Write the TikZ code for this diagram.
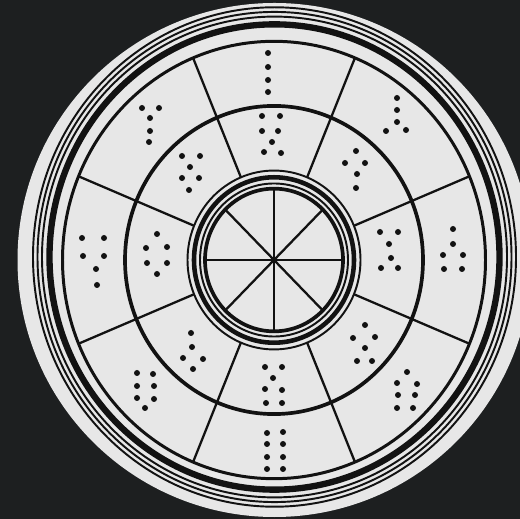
\documentclass[tikz,border=0pt]{standalone}
\usepackage{xcolor}
\definecolor{backdrop}{HTML}{1D1F20}
\definecolor{paper}{HTML}{E7E7E7}
\definecolor{ink}{HTML}{121212}

\begin{document}
\begin{tikzpicture}[x=0.02cm, y=-0.02cm,
  thinring/.style={draw=ink, line width=1.1pt},
  heavyring/.style={draw=ink, line width=3.6pt},
  cellring/.style={draw=ink, line width=1.7pt},
  divider/.style={draw=ink, line width=1.3pt},
  brl/.style={fill=ink}
]
\fill[backdrop] (0,0) rectangle (520,519);
\clip (0,0) rectangle (520,519);
\coordinate (hub) at (274,260);
\coordinate (rim) at (274.5,257);
\fill[paper] (274.5,260) circle[radius=257];

% outer rim
\begin{scope}[shift={(rim)}, yscale=1.034]
  \foreach \r in {232.5,237,241.5} \draw[thinring] (0,0) circle[radius=\r];
  \draw[heavyring] (0,0) circle[radius=225];
\end{scope}

% cell rings and hub
\begin{scope}[shift={(hub)}, yscale=1.034]
  \draw[cellring] (0,0) circle[radius=211.5];
  \draw[cellring, line width=2.1pt] (0,0) circle[radius=149];
  \foreach \a in {22.5,67.5,...,337.5}
    \draw[divider] (\a:86.5) -- (\a:211.5);
  \draw[thinring] (0,0) circle[radius=86.5];
  \draw[heavyring, line width=2.6pt] (0,0) circle[radius=80];
  \draw[thinring] (0,0) circle[radius=74];
  \draw[heavyring, line width=2.1pt] (0,0) circle[radius=69];
  \foreach \a in {0,45,...,315}
    \draw[divider] (0,0) -- (\a:69);
\end{scope}

% outer cells
\foreach \x/\y in {268/53, 268/67, 268/80, 268/92,
    397/98, 397/110, 397/122, 386/131, 406/130,
    453/229, 453/244, 443/255, 463/255, 444/269, 462/269,
    407/372, 397/383, 417/384, 398/395, 415/395, 397/408, 413/408,
    267/433, 283/432, 267/444, 283/444, 267/457, 283/457, 267/469, 283/469,
    137/373, 153/374, 137/386, 154/386, 137/398, 154/399, 145/408,
    82/238, 104/238, 83/256, 104/256, 96/269, 97/285,
    142/108, 159/108, 150/118, 150/131, 149/142}
  \fill[brl] (\x,\y) circle[radius=3];

% inner cells
\foreach \x/\y in {262/116, 280/116, 262/131, 278/131, 272/142, 264/152, 281/153,
    356/151, 345/163, 365/163, 357/174, 356/188,
    380/232, 398/232, 389/244, 391/258, 381/268, 398/268,
    365/325, 353/338, 375/337, 365/348, 357/361, 372/361,
    265/367, 282/367, 273/378, 265/389, 282/390, 266/403, 282/403,
    191/333, 192/347, 183/358, 203/359, 193/369,
    157/234, 146/248, 167/247, 147/263, 167/263, 157/274,
    182/156, 200/156, 190/167, 182/178, 199/178, 189/190}
  \fill[brl] (\x,\y) circle[radius=3];
\end{tikzpicture}
\end{document}
